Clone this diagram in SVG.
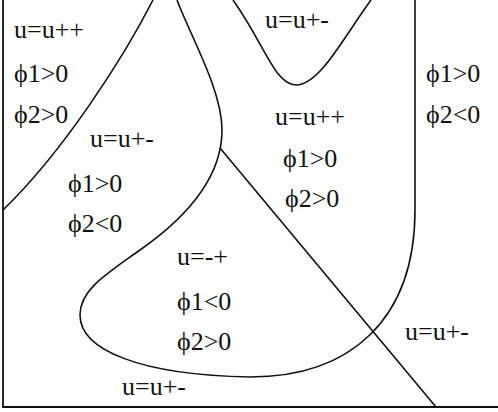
<svg xmlns="http://www.w3.org/2000/svg" width="498" height="412" viewBox="0 0 498 412">
<style>
.b{fill:none;stroke:#111;stroke-width:1.6}
.f{fill:none;stroke:#111;stroke-width:1.8}
text{font-family:"Liberation Serif","Times New Roman",serif;font-size:26px;fill:#111}
</style>
<rect width="498" height="412" fill="#fff"/>
<g id="frame">
<path class="f" d="M3 0 V407 H498"/>
</g>
<g id="boundaries">
<path class="b" d="M153 0 C125 55 65 150 3 210"/>
<path class="b" d="M233 0 C265 45 275 85 296 85 C320 85 345 35 371 0"/>
<path class="b" d="M177 0 C190 35 222 90 222 130 C222 175 190 215 140 250 C105 275 80 290 80 315 C80 350 140 375 250 377 C350 377 415 320 415 210 L415 0"/>
<path class="b" d="M220 148 L436 407"/>
</g>
<g id="region-top-left">
<text x="14" y="38">u=u++</text>
<text x="14" y="82">ϕ1&gt;0</text>
<text x="14" y="123">ϕ2&gt;0</text>
</g>
<g id="region-left">
<text x="90" y="147">u=u+-</text>
<text x="68" y="192">ϕ1&gt;0</text>
<text x="68" y="232">ϕ2&lt;0</text>
</g>
<g id="region-bottom-loop">
<text x="177" y="265">u=-+</text>
<text x="177" y="310">ϕ1&lt;0</text>
<text x="177" y="350">ϕ2&gt;0</text>
</g>
<g id="region-bottom">
<text x="122" y="395">u=u+-</text>
</g>
<g id="region-top-u">
<text x="265" y="28">u=u+-</text>
</g>
<g id="region-middle">
<text x="275" y="125">u=u++</text>
<text x="283" y="167">ϕ1&gt;0</text>
<text x="285" y="207">ϕ2&gt;0</text>
</g>
<g id="region-right">
<text x="426" y="82">ϕ1&gt;0</text>
<text x="426" y="123">ϕ2&lt;0</text>
</g>
<g id="region-bottom-right">
<text x="405" y="340">u=u+-</text>
</g>
</svg>
